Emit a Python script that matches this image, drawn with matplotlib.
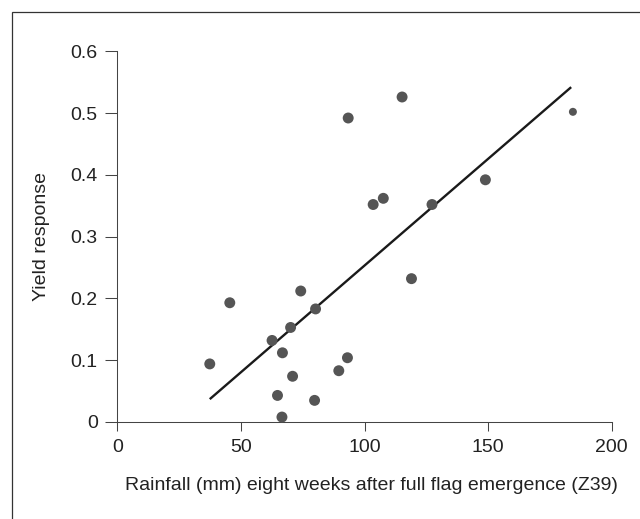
import numpy as np
import matplotlib
matplotlib.use("Agg")
import matplotlib.pyplot as plt
from matplotlib.patches import Rectangle

plt.rcParams['font.family'] = ['Liberation Sans', 'DejaVu Sans']

rainfall = [37.4, 45.5, 62.6, 64.8, 66.6, 66.8, 70.1, 70.9, 74.2, 80.2,
            79.8, 89.6, 93.1, 93.4, 103.5, 107.6, 115.2, 119.0, 127.3, 148.9]
yield_response = [0.094, 0.193, 0.132, 0.043, 0.008, 0.112, 0.153, 0.074, 0.212, 0.183,
                  0.035, 0.083, 0.104, 0.492, 0.352, 0.362, 0.526, 0.232, 0.352, 0.392]
# der Punkt ganz rechts ist kleiner gezeichnet
extra_rainfall = [184.3]
extra_yield = [0.502]

# Regressionsgerade
fit_range = [37.4, 183.6]
fit_slope = 0.003454
fit_intercept = -0.0922

x_ticks = [0, 50, 100, 150, 200]
y_ticks = [0, 0.1, 0.2, 0.3, 0.4, 0.5, 0.6]
y_ticklabels = ['0', '0.1', '0.2', '0.3', '0.4', '0.5', '0.6']

fig = plt.figure(figsize=(6.4, 5.19), dpi=100)
ax = fig.add_axes([0.1833, 0.1869, 0.7725, 0.7143])

# Rahmen um die Grafik (nur links und oben sichtbar)
fig.patches.append(Rectangle((11.5 / 640, -0.5), 2, 1.5 - 11.5 / 519, transform=fig.transFigure,
                             fill=False, edgecolor='#333333', linewidth=0.9))

ax.scatter(rainfall, yield_response, s=62, color='#555555', edgecolors='none', clip_on=False, zorder=3)
ax.scatter(extra_rainfall, extra_yield, s=33, color='#555555', edgecolors='none', clip_on=False, zorder=3)

fx = np.array(fit_range)
ax.plot(fx, fit_intercept + fit_slope * fx, color='#1a1a1a', linewidth=1.7, solid_capstyle='butt', zorder=2)

ax.set_xlim(0, 200)
ax.set_ylim(0, 0.6)
ax.set_xticks(x_ticks)
ax.set_yticks(y_ticks)
ax.set_yticklabels(y_ticklabels)

for side in ['top', 'right']:
    ax.spines[side].set_visible(False)
for side in ['left', 'bottom']:
    ax.spines[side].set_color('#444444')
    ax.spines[side].set_linewidth(0.75)

ax.tick_params(direction='out', width=0.75, color='#444444', labelsize=14, labelcolor='#222222')
ax.tick_params(axis='y', length=8.6, pad=5.5)
ax.tick_params(axis='x', length=6.5, pad=6)

ax.set_xlabel('Rainfall (mm) eight weeks after full flag emergence (Z39)', fontsize=14, color='#222222', va='center')
ax.set_ylabel('Yield response', fontsize=14, color='#222222', va='center')
ax.xaxis.set_label_coords(0.515, -0.170)
ax.yaxis.set_label_coords(-0.154, 0.5)

fig.savefig('out.png', dpi=100)
